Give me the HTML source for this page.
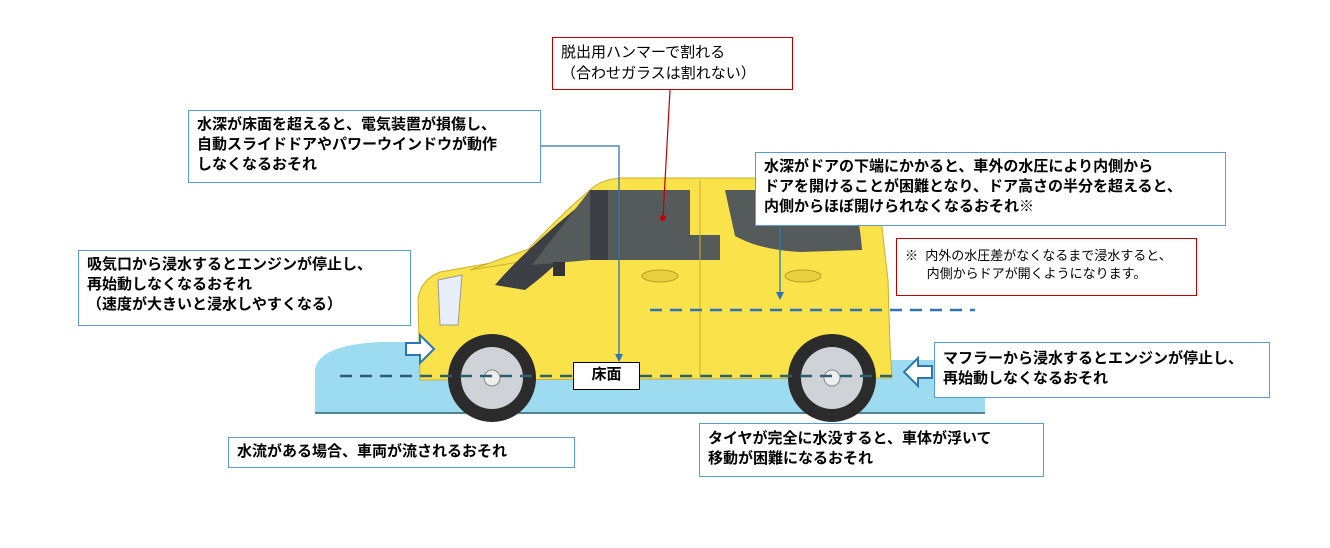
<!DOCTYPE html>
<html><head><meta charset="utf-8"><style>
body{margin:0;width:1330px;height:548px;background:#fff;position:relative;overflow:hidden;font-family:"Liberation Sans","Noto Sans CJK JP",sans-serif;}
.b{position:absolute;border:1.5px solid #5b9bd5;background:#fff;font-size:15px;font-weight:bold;line-height:20px;padding:4px 8px;box-sizing:border-box;color:#000;white-space:nowrap}
.r{border-color:#c00000}
svg{position:absolute;left:0;top:0}
</style></head><body>
<svg width="1330" height="548">
<path d="M315 413 L315 370 Q318 345 380 342 L420 342 L420 360 L985 360 L985 413 Z" fill="#9ddcf0"/>
<line x1="315" y1="413" x2="985" y2="413" stroke="#2f5f6f" stroke-width="1.5"/>
<!-- car body -->
<path d="M420 380 L418 300 Q420 280 440 272 L520 258 Q560 215 590 190 Q600 180 620 178 L850 178 Q875 180 880 210 L888 280 L890 345 L892 378 Z" fill="#f9e24a" stroke="#c9b030" stroke-width="1"/>
<path d="M470 270 L540 245 Q550 230 560 222 L545 258 Z" fill="#f9e24a" stroke="#c9b030"/>
<path d="M495 285 Q520 255 580 205 L585 260 L560 260 Q545 275 525 290 Z" fill="#3c3f45"/>
<path d="M532 265 L590 190 L690 190 L690 235 L720 235 L720 260 L590 260 Z" fill="#555b5a"/>
<path d="M725 190 L840 190 Q858 195 862 250 L800 252 Q760 250 735 236 Z" fill="#555b5a"/>
<rect x="590" y="190" width="18" height="70" fill="#3c3f45"/>
<ellipse cx="660" cy="276" rx="18" ry="6" fill="#e8d040" stroke="#b9a020"/>
<ellipse cx="803" cy="276" rx="18" ry="6" fill="#e8d040" stroke="#b9a020"/>
<rect x="553" y="262" width="12" height="14" fill="#333"/>
<path d="M438 280 L462 275 L458 325 L440 325 Z" fill="#e8eef8" stroke="#999"/>
<line x1="700" y1="180" x2="700" y2="375" stroke="#c9b030"/>
<!-- wheels -->
<g><circle cx="492" cy="378" r="44" fill="#2b2b2b"/><circle cx="492" cy="378" r="31" fill="#cfd3d8"/><circle cx="492" cy="378" r="8" fill="#eee" stroke="#888"/></g>
<g><circle cx="832" cy="378" r="44" fill="#2b2b2b"/><circle cx="832" cy="378" r="31" fill="#cfd3d8"/><circle cx="832" cy="378" r="8" fill="#eee" stroke="#888"/></g>
<line x1="340" y1="376" x2="895" y2="376" stroke="#2f5f6f" stroke-width="2.5" stroke-dasharray="12,8"/>
<line x1="650" y1="310" x2="975" y2="310" stroke="#2e75b6" stroke-width="2.5" stroke-dasharray="12,8"/>
<!-- connectors -->
<line x1="670" y1="90" x2="663" y2="218" stroke="#c00000" stroke-width="1.2"/>
<circle cx="663" cy="218" r="3" fill="#c00000"/>
<path d="M541 146 L619 146 L619 356" fill="none" stroke="#2e75b6" stroke-width="1.3"/>
<path d="M615 354 L619 362 L623 354 Z" fill="#2e75b6"/>
<line x1="780" y1="226" x2="780" y2="294" stroke="#2e75b6" stroke-width="1.3"/>
<path d="M776 292 L780 300 L784 292 Z" fill="#2e75b6"/>
<path d="M406 343 L420 343 L420 335 L434 349 L420 363 L420 355 L406 355 Z" fill="#fff" stroke="#2e75b6" stroke-width="2"/>
<path d="M932 366 L918 366 L918 358 L904 372 L918 386 L918 378 L932 378 Z" fill="#fff" stroke="#2e75b6" stroke-width="2"/>
</svg>
<div class="b r" style="left:552px;top:37px;width:241px;height:53px;font-weight:normal;line-height:21px">脱出用ハンマーで割れる<br>（合わせガラスは割れない）</div>
<div class="b" style="left:188px;top:110px;width:353px;height:73px">水深が床面を超えると、電気装置が損傷し、<br>自動スライドドアやパワーウインドウが動作<br>しなくなるおそれ</div>
<div class="b" style="left:755px;top:152px;width:471px;height:74px">水深がドアの下端にかかると、車外の水圧により内側から<br>ドアを開けることが困難となり、ドア高さの半分を超えると、<br>内側からほぼ開けられなくなるおそれ※</div>
<div class="b r" style="left:896px;top:238px;width:301px;height:58px;font-size:13px;font-weight:normal;line-height:18px;padding-top:8px">※ &nbsp;内外の水圧差がなくなるまで浸水すると、<br>&nbsp;&nbsp;&nbsp;&nbsp;&nbsp;&nbsp;内側からドアが開くようになります。</div>
<div class="b" style="left:78px;top:250px;width:333px;height:76px">吸気口から浸水するとエンジンが停止し、<br>再始動しなくなるおそれ<br>（速度が大きいと浸水しやすくなる）</div>
<div class="b" style="left:934px;top:342px;width:336px;height:56px;padding-top:6px">マフラーから浸水するとエンジンが停止し、<br>再始動しなくなるおそれ</div>
<div class="b" style="left:228px;top:437px;width:347px;height:31px;padding-top:4px">水流がある場合、車両が流されるおそれ</div>
<div class="b" style="left:699px;top:423px;width:345px;height:54px;padding-top:5px">タイヤが完全に水没すると、車体が浮いて<br>移動が困難になるおそれ</div>
<div class="b" style="left:573px;top:362px;width:67px;height:28px;border-color:#000;padding:2px 0;text-align:center">床面</div>
</body></html>
